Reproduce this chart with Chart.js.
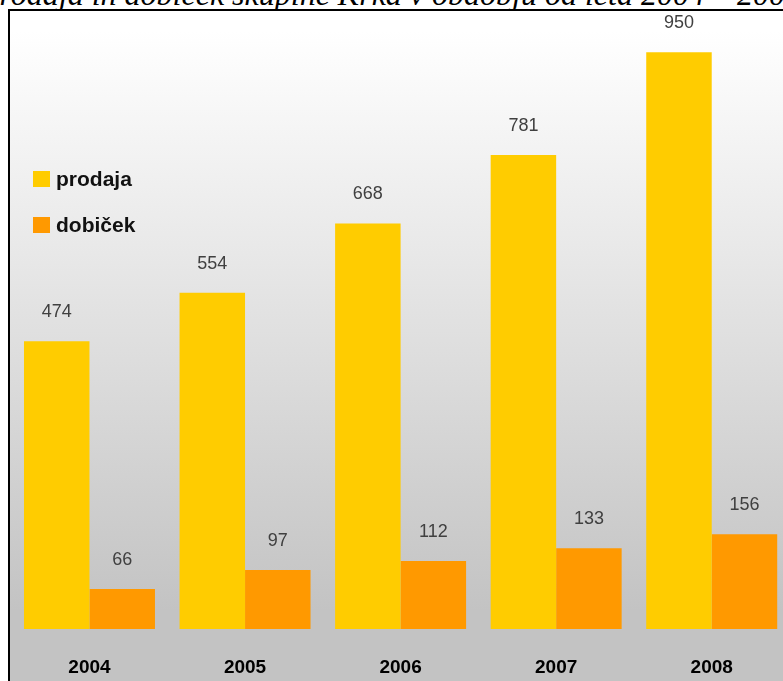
<!DOCTYPE html>
<html>
<head>
<meta charset="utf-8">
<script src="https://cdn.jsdelivr.net/npm/chart.js@4.4.0/dist/chart.umd.min.js"></script>
<style>
    html, body { margin: 0; padding: 0; width: 783px; height: 681px; overflow: hidden; background: #fff; }
    .title {
        position: absolute; left: -20px; top: -24px; white-space: nowrap;
        font-family: "Liberation Serif", "Times New Roman", serif;
        font-style: italic; font-size: 32px; color: #000;
    }
    .frame {
        position: absolute; left: 8px; top: 9px; width: 900px; height: 800px;
        border-left: 2px solid #000; border-top: 2px solid #000;
        background: linear-gradient(to bottom, #ffffff 0px, #ffffff 20px, #c3c3c3 600px, #c3c3c3 800px);
    }
    .wrap { position: absolute; left: 0; top: 0; width: 800px; height: 681px; }
</style>
</head>
<body>
<div class="title">Prodaja in dobiček skupine Krka v obdobju od leta 2004 – 2008</div>
<div class="frame"></div>
<div class="wrap"><canvas id="salesChart" width="800" height="681"></canvas></div>
<script>
const years = ['2004', '2005', '2006', '2007', '2008'];
const prodaja = [474, 554, 668, 781, 950];
const dobicek = [66, 97, 112, 133, 156];
const seriesNames = ['prodaja', 'dobiček'];
const seriesColors = ['#ffcc00', '#ff9900'];

let salesChart;

// numbers above each bar
const valueLabels = {
    id: 'valueLabels',
    afterDatasetsDraw(chart) {
        const ctx = chart.ctx;
        ctx.save();
        ctx.font = '18px "Liberation Sans", Arial, sans-serif';
        ctx.fillStyle = '#404040';
        ctx.textAlign = 'center';
        ctx.textBaseline = 'middle';
        chart.data.datasets.forEach((ds, i) => {
            chart.getDatasetMeta(i).data.forEach((bar, j) => {
                ctx.fillText(ds.data[j], bar.x, bar.y - 29);
            });
        });
        ctx.restore();
    }
};

// legend sits inside the plot on the left
const sideLegend = {
    id: 'sideLegend',
    afterDraw(chart) {
        const ctx = chart.ctx;
        ctx.save();
        ctx.font = 'bold 21px "Liberation Sans", Arial, sans-serif';
        ctx.textBaseline = 'middle';
        chart.data.datasets.forEach((ds, i) => {
            const y = 179 + i * 46;
            ctx.fillStyle = ds.backgroundColor;
            ctx.fillRect(33, y - 8, 17, 16);
            ctx.fillStyle = '#111';
            ctx.fillText(ds.label, 56, y + 1);
        });
        ctx.restore();
    }
};

function initChart() {
    const ctx = document.getElementById('salesChart').getContext('2d');

    salesChart = new Chart(ctx, {
        type: 'bar',
        data: {
            labels: years,
            datasets: [{
                label: seriesNames[0],
                data: prodaja,
                backgroundColor: seriesColors[0]
            }, {
                label: seriesNames[1],
                data: dobicek,
                backgroundColor: seriesColors[1]
            }]
        },
        options: {
            responsive: false,
            animation: false,
            layout: { padding: { left: 11.7, right: 10.5, top: 22, bottom: 0 } },
            datasets: { bar: { categoryPercentage: 0.842, barPercentage: 1.0 } },
            plugins: { legend: { display: false }, tooltip: { enabled: false } },
            scales: {
                x: {
                    grid: { display: false, drawTicks: false },
                    border: { display: false },
                    ticks: {
                        color: '#000',
                        padding: 27,
                        font: { family: '"Liberation Sans", Arial, sans-serif', size: 19, weight: 'bold' }
                    },
                    afterFit(scale) { scale.height = 52; }
                },
                y: {
                    display: false,
                    min: 0,
                    max: 1000
                }
            }
        },
        plugins: [valueLabels, sideLegend]
    });
}

initChart();
</script>
</body>
</html>
